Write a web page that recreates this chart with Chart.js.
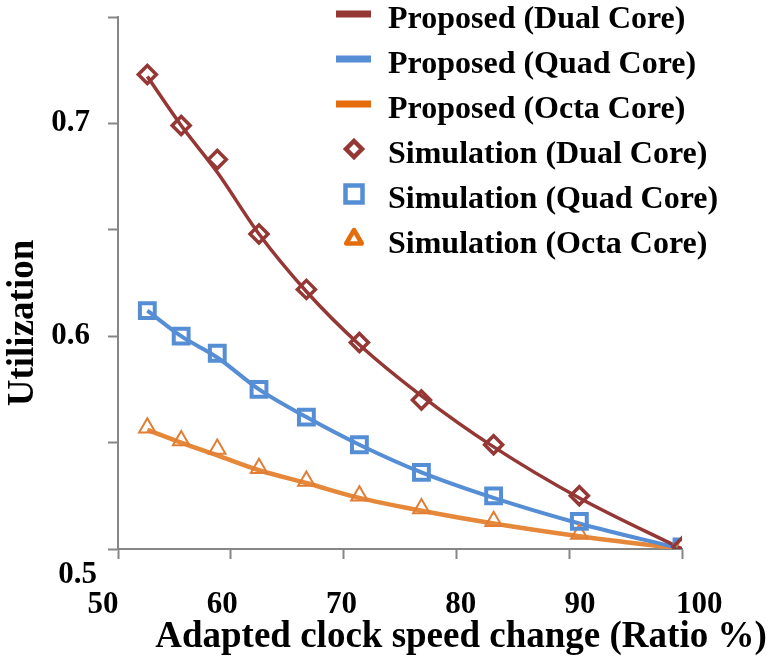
<!DOCTYPE html>
<html>
<head>
<meta charset="utf-8">
<script src="https://cdn.jsdelivr.net/npm/chart.js@4.4.0/dist/chart.umd.min.js"></script>
<style>
  html, body { margin: 0; padding: 0; background: #fff; }
</style>
</head>
<body>
<canvas id="utilchart" width="769" height="657"></canvas>
<script>
// data
const clockRatio = [52.6, 55.6, 58.8, 62.5, 66.7, 71.4, 76.9, 83.3, 90.9, 100];

const proposedDual = [0.722, 0.699, 0.677, 0.648, 0.621, 0.596, 0.572, 0.548, 0.524, 0.500];
const proposedQuad = [0.612, 0.600, 0.590, 0.575, 0.562, 0.549, 0.536, 0.524, 0.512, 0.500];
const proposedOcta = [0.556, 0.550, 0.544, 0.537, 0.531, 0.524, 0.518, 0.512, 0.506, 0.500];

const simDual = [0.723, 0.699, 0.683, 0.648, 0.622, 0.597, 0.570, 0.549, 0.525, 0.501];
const simQuad = [0.612, 0.600, 0.592, 0.575, 0.562, 0.549, 0.536, 0.525, 0.513, 0.501];
const simOcta = [0.557, 0.551, 0.547, 0.538, 0.532, 0.525, 0.519, 0.513, 0.507, 0.501];

const xTicks = [50, 60, 70, 80, 90, 100];
const yTicks = [0.5, 0.6, 0.7];

const seriesNames = [
    "Proposed (Dual Core)",
    "Proposed (Quad Core)",
    "Proposed (Octa Core)",
    "Simulation (Dual Core)",
    "Simulation (Quad Core)",
    "Simulation (Octa Core)"
];

const xTitle = "Adapted clock speed change (Ratio %)";
const yTitle = "Utilization";

const serif = "'Liberation Serif', 'Times New Roman', serif";
const axisGray = "#868686";
const dualColor = "#953735";
const quadColor = "#558ED5";
const octaLine = "#E6883A";
const octaMark = "#E27D35";
const octaLegend = "#E46C0A";

function toPoints(ys) {
    return ys.map((y, i) => ({ x: clockRatio[i], y: y }));
}

function lineSet(label, ys, color, width) {
    return {
        type: "line",
        label: label,
        data: toPoints(ys),
        borderColor: color,
        borderWidth: width,
        pointRadius: 0,
        cubicInterpolationMode: "monotone",
        fill: false,
        order: 2
    };
}

function markSet(label, ys, color, style, radius, width) {
    return {
        type: "scatter",
        label: label,
        data: toPoints(ys),
        showLine: false,
        pointStyle: style,
        pointRadius: radius,
        pointBorderWidth: width,
        pointBorderColor: color,
        pointBackgroundColor: "rgba(0,0,0,0)",
        order: 1
    };
}

// legend, axis titles and the x tick labels (spread a little wider than the ticks, like the original)
const overlayText = {
    id: "overlayText",
    afterDraw(chart) {
        const ctx = chart.ctx;
        const area = chart.chartArea;
        const xs = chart.scales.x;
        const ys = chart.scales.y;
        ctx.save();
        ctx.fillStyle = "#000";

        // x tick labels
        ctx.font = "bold 31px " + serif;
        ctx.textAlign = "center";
        ctx.textBaseline = "alphabetic";
        xTicks.forEach(v => {
            const px = area.left - 15 + (xs.getPixelForValue(v) - area.left) * 1.057;
            ctx.fillText(String(v), px, area.bottom + 64);
        });

        // lowest y label sits below the axis in the original
        ctx.textAlign = "right";
        ctx.fillText(yTicks[0].toFixed(1), area.left - 21, ys.getPixelForValue(yTicks[0]) + 34);

        // x title
        ctx.font = "bold 37px " + serif;
        ctx.textAlign = "center";
        ctx.fillText(xTitle, area.left + 343, chart.height - 10);

        // y title
        ctx.save();
        ctx.translate(33, area.top + 306);
        ctx.rotate(-Math.PI / 2);
        ctx.fillText(yTitle, 0, 0);
        ctx.restore();

        // legend
        const lx = area.left + 218;
        const top = area.top - 3;
        const gap = 45;
        const swatch = [dualColor, quadColor, octaLegend];
        ctx.font = "bold 32px " + serif;
        ctx.textAlign = "left";
        for (let i = 0; i < seriesNames.length; i++) {
            const cy = top + i * gap;
            const col = swatch[i % 3];
            if (i < 3) {
                ctx.fillStyle = col;
                ctx.fillRect(lx, cy - 3.5, 35, 7);
            } else {
                const mx = lx + 18;
                ctx.strokeStyle = col;
                ctx.lineWidth = 4.5;
                ctx.beginPath();
                if (i === 3) {
                    ctx.lineJoin = "miter";
                    ctx.moveTo(mx, cy - 8);
                    ctx.lineTo(mx + 8, cy);
                    ctx.lineTo(mx, cy + 8);
                    ctx.lineTo(mx - 8, cy);
                } else if (i === 4) {
                    ctx.lineJoin = "miter";
                    ctx.rect(mx - 8.5, cy - 8.5, 17, 17);
                } else {
                    ctx.lineJoin = "round";
                    ctx.moveTo(mx, cy - 9);
                    ctx.lineTo(mx + 7.8, cy + 4.5);
                    ctx.lineTo(mx - 7.8, cy + 4.5);
                }
                ctx.closePath();
                ctx.stroke();
            }
            ctx.fillStyle = "#000";
            ctx.fillText(seriesNames[i], lx + 52, cy + 14);
        }
        ctx.restore();
    }
};

const utilChart = new Chart(document.getElementById("utilchart"), {
    type: "scatter",
    data: {
        datasets: [
            lineSet(seriesNames[0], proposedDual, dualColor, 3.5),
            lineSet(seriesNames[1], proposedQuad, quadColor, 4),
            lineSet(seriesNames[2], proposedOcta, octaLine, 4.5),
            markSet(seriesNames[3], simDual, dualColor, "rectRot", 9, 3.5),
            markSet(seriesNames[4], simQuad, quadColor, "rect", 10.5, 4),
            markSet(seriesNames[5], simOcta, octaMark, "triangle", 9.5, 2)
        ]
    },
    options: {
        responsive: false,
        animation: false,
        layout: {
            padding: { left: 0, right: 87, top: 17, bottom: 0 }
        },
        plugins: {
            legend: { display: false },
            tooltip: { enabled: false }
        },
        scales: {
            x: {
                type: "linear",
                min: xTicks[0],
                max: xTicks[xTicks.length - 1],
                afterFit(scale) {
                    scale.height = 108;
                    scale.paddingLeft = 0;
                    scale.paddingRight = 0;
                },
                afterBuildTicks(scale) {
                    scale.ticks = xTicks.map(v => ({ value: v }));
                },
                border: { display: true, color: axisGray, width: 2 },
                grid: {
                    display: true,
                    drawOnChartArea: false,
                    drawTicks: true,
                    tickLength: 10,
                    tickWidth: 2,
                    tickColor: axisGray
                },
                ticks: {
                    color: "#000",
                    padding: 24,
                    maxRotation: 0,
                    font: { family: serif, size: 31, weight: "bold" },
                    callback: () => ""
                }
            },
            y: {
                type: "linear",
                min: 0.5,
                max: 0.75,
                afterFit(scale) {
                    scale.width = 118;
                    scale.paddingTop = 0;
                    scale.paddingBottom = 0;
                },
                afterBuildTicks(scale) {
                    const t = [];
                    for (let v = 0.5; v <= 0.7501; v += 0.05) {
                        t.push({ value: Math.round(v * 100) / 100 });
                    }
                    scale.ticks = t;
                },
                border: { display: true, color: axisGray, width: 2 },
                grid: {
                    display: true,
                    drawOnChartArea: false,
                    drawTicks: true,
                    tickLength: 10,
                    tickWidth: 2,
                    tickColor: axisGray
                },
                ticks: {
                    color: "#000",
                    padding: 18,
                    font: { family: serif, size: 31, weight: "bold" },
                    callback: function (value) {
                        const hit = yTicks.slice(1).find(t => Math.abs(t - value) < 1e-6);
                        return hit !== undefined ? hit.toFixed(1) : "";
                    }
                }
            }
        }
    },
    plugins: [overlayText]
});
</script>
</body>
</html>
